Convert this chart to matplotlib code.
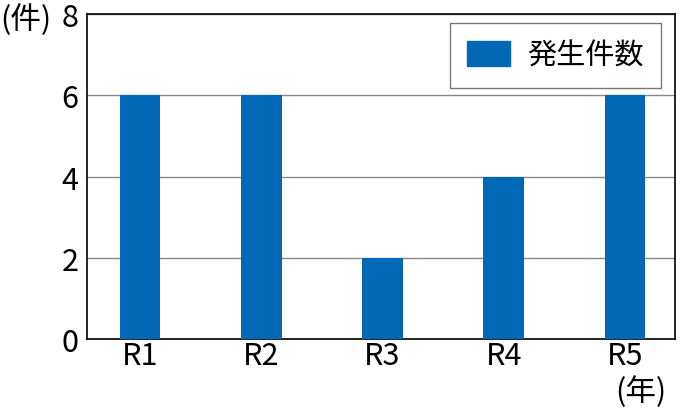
import matplotlib
matplotlib.use("Agg")
import matplotlib.pyplot as plt
from matplotlib.patches import Patch

plt.rcParams['font.family'] = ['Noto Sans CJK JP', 'DejaVu Sans']

categories = ["R1", "R2", "R3", "R4", "R5"]
values = [6, 6, 2, 4, 6]
series_name = "発生件数"
yticks = [0, 2, 4, 6, 8]

fig = plt.figure(figsize=(6.8, 4.14), dpi=100)
L, R, T, B = 87, 675, 15, 340
ax = fig.add_axes([L/680, (414-B)/414, (R-L)/680, (B-T)/414])
x = list(range(len(categories)))
ax.bar(x, values, width=0.335, color="#0068b7", zorder=3)
ax.set_xlim(-0.437, 4.412)
ax.set_ylim(0, 8)
ax.set_yticks(yticks)
ax.set_xticks(x)
ax.set_xticklabels(categories)
ax.tick_params(axis='both', length=0, labelsize=22, pad=6)
ax.tick_params(axis='x', pad=1)
ax.grid(axis='y', color="#888888", linewidth=1, zorder=0)
for s in ax.spines.values():
    s.set_color("black")
    s.set_linewidth(1.2)
leg = ax.legend(handles=[Patch(color="#0068b7", label=series_name)],
                loc="upper right", bbox_to_anchor=(1 - 14/(R-L), 1 - 9/(B-T)),
                fontsize=21, frameon=True, fancybox=False, edgecolor="#555555",
                handlelength=1.45, handleheight=0.95, borderpad=0.6, handletextpad=0.6,
                borderaxespad=0.0)
leg.get_frame().set_linewidth(1)
fig.text(0.0, 394/414, "(件)", fontsize=22, ha="left", va="center")
fig.text(641/680, 22/414, "(年)", fontsize=22, ha="center", va="center")
fig.savefig("out.png", dpi=100)
